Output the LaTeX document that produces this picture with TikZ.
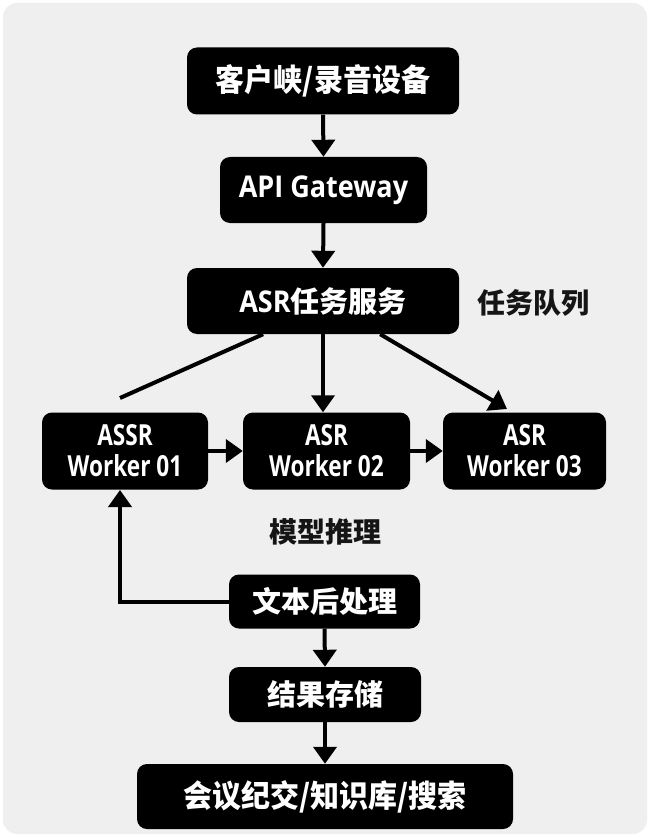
\documentclass[tikz,border=0pt]{standalone}
\usepackage{fontspec}
\setmainfont{Open Sans}
\newfontfamily\cjk{Noto Sans CJK SC}
\newfontfamily\cjknarrow{Noto Sans CJK SC}[FakeStretch=0.935]
\newfontfamily\latnarrow{Open Sans}[FakeStretch=0.9]
\newfontfamily\latcond{Open Sans}[FakeStretch=0.78]
\usetikzlibrary{arrows.meta,calc}
\definecolor{bgc}{HTML}{EFEFEF}
\definecolor{lblc}{HTML}{151515}
\tikzset{
  box/.style={fill=black, text=white, rounded corners=10pt, inner sep=0pt, align=center, font=\cjk\bfseries\fontsize{29}{35}\selectfont},
  wbox/.style={box, minimum height=77pt, font=\latcond\bfseries\fontsize{29}{31}\selectfont},
  lbl/.style={text=lblc, inner sep=0pt, font=\cjk\bfseries\fontsize{28}{34}\selectfont},
  conn/.style={line width=4pt, draw=black},
  arr/.style={conn, -{Triangle[width=23pt,length=17pt]}}
}
\begin{document}
\begin{tikzpicture}[x=1pt,y=-1pt]
\useasboundingbox (0,0) rectangle (650,837);
\fill[white] (0,0) rectangle (650,837);
\fill[bgc, rounded corners=14pt] (3,3) rectangle (647,834);

\node[box, minimum width=272pt, minimum height=67pt, font=\cjknarrow\bfseries\fontsize{31}{37}\selectfont] (client) at (323,81) {客户峡/录音设备};
\node[box, minimum width=207pt, minimum height=66pt, font=\latnarrow\bfseries\fontsize{30}{36}\selectfont] (api) at (323.5,190) {API Gateway};
\node[box, minimum width=272pt, minimum height=66pt] (task) at (323,301) {{\latnarrow\fontsize{30}{36}\selectfont ASR}{\cjk 任务服务}};
\node[lbl] (queue) at (533,303) {任务队列};

\node[wbox, minimum width=166pt] (w1) at (125,451) {ASSR\\Worker 01};
\node[wbox, minimum width=167pt] (w2) at (326.5,451) {ASR\\Worker 02};
\node[wbox, minimum width=163pt] (w3) at (524.5,451) {ASR\\Worker 03};

\node[lbl] (infer) at (325,532) {模型推理};

\node[box, minimum width=191pt, minimum height=54pt] (post) at (324.5,601.5) {文本后处理};
\node[box, minimum width=192pt, minimum height=55pt] (store) at (325,694.5) {结果存储};
\node[box, minimum width=376pt, minimum height=65pt, font=\cjknarrow\bfseries\fontsize{31}{37}\selectfont] (out) at (325,796.5) {会议纪交/知识库/搜索};

\coordinate (lend) at (120,398);
\coordinate (rend) at (507,409);
\coordinate (fb) at (120,490);

\draw[arr] (client.south) -- (api.north);
\draw[arr] (api.south) -- (task.north);
\draw[conn] ($(task.south west)!0.28!(task.south east)$) -- (lend);
\draw[arr] (task.south) -- (task.south |- w2.north);
\draw[arr] ($(task.south west)!0.71!(task.south east)$) -- (rend);
\draw[arr] (w1.east) -- (w2.west);
\draw[arr] (w2.east) -- (w3.west);
\draw[arr] (post.west) -| (fb);
\draw[arr] (post.south) -- (store.north);
\draw[arr] (store.south) -- (out.north);
\end{tikzpicture}
\end{document}
